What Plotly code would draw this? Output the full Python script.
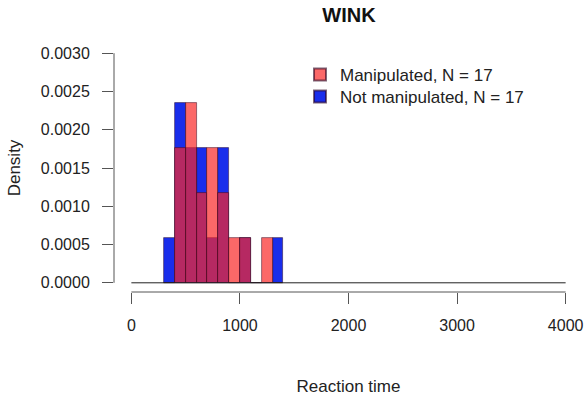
import plotly.graph_objects as go

# Histogram data (breaks every 100 ms)
bin_left = [300, 400, 500, 600, 700, 800, 900, 1000, 1100, 1200, 1300]
counts_manipulated = [0, 3, 4, 2, 3, 2, 1, 1, 0, 1, 0]
counts_not_manipulated = [1, 4, 3, 3, 1, 3, 0, 1, 0, 0, 1]
n_manipulated = 17
n_not_manipulated = 17
bin_width = 100
all_breaks = list(range(0, 4001, 100))

x_ticks = [0, 1000, 2000, 3000, 4000]
y_ticks = [0, 0.0005, 0.0010, 0.0015, 0.0020, 0.0025, 0.0030]

centers = [b + bin_width / 2 for b in bin_left]
dens_man = [c / (n_manipulated * bin_width) for c in counts_manipulated]
dens_not = [c / (n_not_manipulated * bin_width) for c in counts_not_manipulated]

FONT = "Liberation Sans, Arial, sans-serif"
AX = "#555555"

fig = go.Figure()
fig.add_trace(go.Scatter(
    x=all_breaks, y=[0] * len(all_breaks), mode="lines",
    line=dict(color="#222222", width=1), showlegend=False, hoverinfo="skip"))
fig.add_trace(go.Bar(
    x=centers, y=dens_not, width=bin_width,
    name=f"Not manipulated, N = {n_not_manipulated}",
    marker=dict(color="rgb(25,45,235)", line=dict(color="rgba(40,0,30,0.6)", width=0.8)),
    legend="legend2"))
fig.add_trace(go.Bar(
    x=centers, y=dens_man, width=bin_width,
    name=f"Manipulated, N = {n_manipulated}",
    marker=dict(color="rgba(250,40,40,0.7)", line=dict(color="rgba(40,0,30,0.6)", width=0.8)),
    legend="legend"))

leg_common = dict(xanchor="left", yanchor="top", bgcolor="rgba(0,0,0,0)",
                  font=dict(size=17, family=FONT, color="#222222"),
                  itemsizing="constant")

fig.update_layout(
    width=585, height=402,
    margin=dict(l=114, r=2, t=44, b=110, autoexpand=False),
    paper_bgcolor="white", plot_bgcolor="white",
    barmode="overlay", bargap=0,
    font=dict(family=FONT, size=16, color="#222222"),
    title=dict(text="<b>WINK</b>", x=349 / 585, xanchor="center",
               y=1 - 14.5 / 402, yanchor="middle",
               font=dict(size=20, color="#111111", family=FONT)),
    showlegend=True,
    legend=dict(x=0.3966, y=0.9476, **leg_common),
    legend2=dict(x=0.3966, y=0.8589, **leg_common),
    shapes=[
        dict(type="line", xref="x", yref="paper", x0=0, x1=4000, y0=0, y1=0,
             line=dict(color=AX, width=1)),
        dict(type="line", xref="paper", yref="y", x0=0, x1=0, y0=0, y1=0.003,
             line=dict(color=AX, width=1)),
    ],
)
fig.update_xaxes(range=[-160, 4160], tickvals=x_ticks, ticktext=[str(v) for v in x_ticks],
                 ticks="outside", ticklen=11, tickcolor=AX, tickwidth=1,
                 showline=False, showgrid=False, zeroline=False, automargin=False,
                 ticklabelstandoff=8,
                 title=dict(text="Reaction time", standoff=46, font=dict(size=17)))
fig.update_yaxes(range=[-0.00012, 0.00312], tickvals=y_ticks,
                 ticktext=[f"{v:.4f}" for v in y_ticks],
                 ticks="outside", ticklen=11, tickcolor=AX, tickwidth=1,
                 showline=False, showgrid=False, zeroline=False, automargin=False,
                 ticklabelstandoff=9,
                 title=dict(text="Density", standoff=15, font=dict(size=17)))

fig.write_html("out.html", config={"displayModeBar": False},
               post_script="document.body.style.margin='0';document.body.style.padding='0';")
